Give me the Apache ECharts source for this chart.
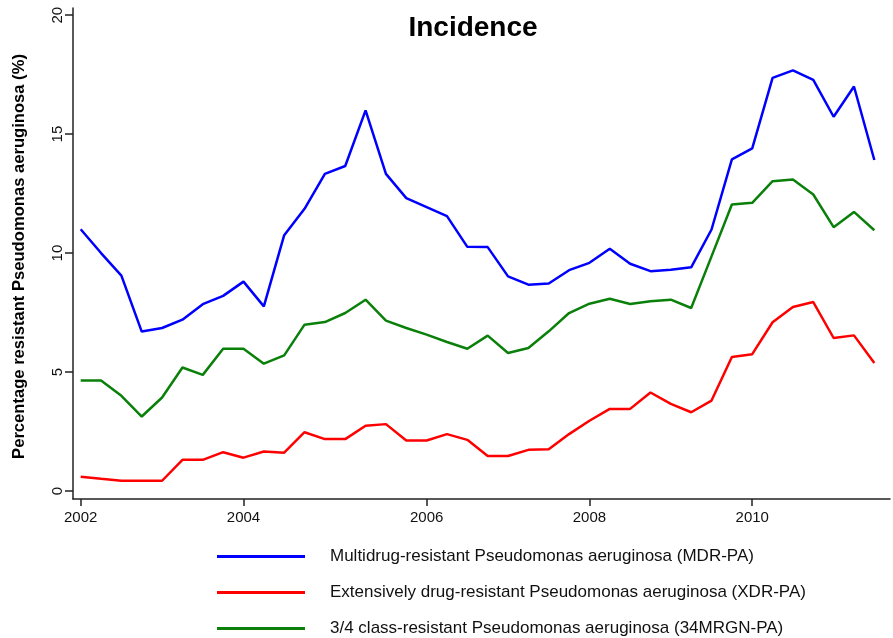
<!DOCTYPE html>
<html>
<head>
<meta charset="utf-8">
<script src="https://cdn.jsdelivr.net/npm/echarts@6/dist/echarts.min.js"></script>
<style>
  html, body { margin: 0; padding: 0; background: #fff; }
  #chart { width: 893px; height: 638px; }
</style>
</head>
<body>
<div id="chart"></div>
<script>
// Period index of each observation (40 consecutive periods)
const periods = Array.from({ length: 40 }, (_, i) => i);

// Year labels and the periods they sit at
const yearTickPeriods = [0, 8, 17, 25, 33];
const yearTickLabels = ['2002', '2004', '2006', '2008', '2010'];

// Y axis ticks
const yTicks = [0, 5, 10, 15, 20];

// Percentage resistant isolates per period
const mdrPA = [11.0, 10.0, 9.05, 6.7, 6.85, 7.2, 7.85, 8.2, 8.8, 7.76,
  10.75, 11.86, 13.33, 13.66, 16.0, 13.33, 12.31, 11.93, 11.55, 10.26,
  10.25, 9.02, 8.67, 8.72, 9.28, 9.59, 10.18, 9.55, 9.24, 9.3,
  9.4, 10.99, 13.94, 14.4, 17.36, 17.68, 17.28, 15.73, 17.0, 13.91];

const xdrPA = [0.6, 0.51, 0.43, 0.43, 0.43, 1.31, 1.31, 1.63, 1.4, 1.66,
  1.61, 2.47, 2.18, 2.18, 2.74, 2.81, 2.12, 2.12, 2.39, 2.15,
  1.47, 1.47, 1.73, 1.75, 2.39, 2.95, 3.45, 3.45, 4.14, 3.66,
  3.31, 3.8, 5.63, 5.75, 7.09, 7.73, 7.94, 6.43, 6.54, 5.38];

const mrgn34PA = [4.64, 4.64, 4.0, 3.13, 3.93, 5.19, 4.88, 5.98, 5.98, 5.35,
  5.7, 6.99, 7.1, 7.48, 8.04, 7.16, 6.85, 6.57, 6.26, 5.98,
  6.53, 5.8, 6.01, 6.71, 7.48, 7.87, 8.08, 7.86, 7.97, 8.04,
  7.69, 9.86, 12.04, 12.11, 13.02, 13.09, 12.46, 11.09, 11.73, 10.96];

const seriesNames = [
  'Multidrug-resistant Pseudomonas aeruginosa (MDR-PA)',
  'Extensively drug-resistant Pseudomonas aeruginosa (XDR-PA)',
  '3/4 class-resistant Pseudomonas aeruginosa (34MRGN-PA)'
];
const seriesColors = ['#0000ff', '#ff0000', '#0a800a'];
const seriesValues = [mdrPA, xdrPA, mrgn34PA];

const FONT = '"Liberation Sans", Arial, sans-serif';
const AXIS_COLOR = '#222';

const chart = echarts.init(document.getElementById('chart'), null, { renderer: 'canvas' });

chart.setOption({
  backgroundColor: '#fff',
  animation: false,
  title: {
    text: 'Incidence',
    left: 468,
    textAlign: 'center',
    top: 9,
    textStyle: { fontFamily: FONT, fontSize: 28, fontWeight: 'bold', color: '#000' }
  },
  legend: {
    orient: 'vertical',
    left: 217,
    top: 548,
    padding: 0,
    itemWidth: 88,
    itemHeight: 3,
    itemGap: 19,
    icon: 'rect',
    selectedMode: false,
    textStyle: { fontFamily: FONT, fontSize: 17, color: '#111', padding: [0, 0, 0, 20] },
    data: seriesNames
  },
  grid: { left: 73, right: 3, top: 8, bottom: 139, containLabel: false, outerBoundsMode: 'none' },
  xAxis: {
    type: 'value',
    min: -0.378,
    max: 39.77,
    axisLine: { show: true, onZero: false, lineStyle: { color: AXIS_COLOR, width: 1.5 } },
    axisTick: { show: true, length: 7, customValues: yearTickPeriods, lineStyle: { color: AXIS_COLOR, width: 1.5 } },
    axisLabel: {
      customValues: yearTickPeriods,
      margin: 11,
      fontFamily: FONT,
      fontSize: 15,
      color: '#111',
      formatter: v => yearTickLabels[yearTickPeriods.indexOf(Math.round(v))] || ''
    },
    splitLine: { show: false }
  },
  yAxis: {
    type: 'value',
    min: -0.337,
    max: 20.3,
    name: 'Percentage resistant Pseudomonas aeruginosa (%)',
    nameLocation: 'middle',
    nameGap: 45,
    nameTextStyle: { fontFamily: FONT, fontSize: 16.6, fontWeight: 'bold', color: '#000', padding: [0, 6, 0, 0] },
    axisLine: { show: true, onZero: false, lineStyle: { color: AXIS_COLOR, width: 1.5 } },
    axisTick: { show: true, length: 8, customValues: yTicks, lineStyle: { color: AXIS_COLOR, width: 1.5 } },
    axisLabel: {
      customValues: yTicks,
      rotate: 90,
      margin: 8,
      fontFamily: FONT,
      fontSize: 15,
      color: '#111'
    },
    splitLine: { show: false }
  },
  series: seriesNames.map((name, k) => ({
    name: name,
    type: 'line',
    symbol: 'none',
    color: seriesColors[k],
    lineStyle: { color: seriesColors[k], width: 2.5 },
    data: periods.map(i => [i, seriesValues[k][i]])
  }))
});
</script>
</body>
</html>
